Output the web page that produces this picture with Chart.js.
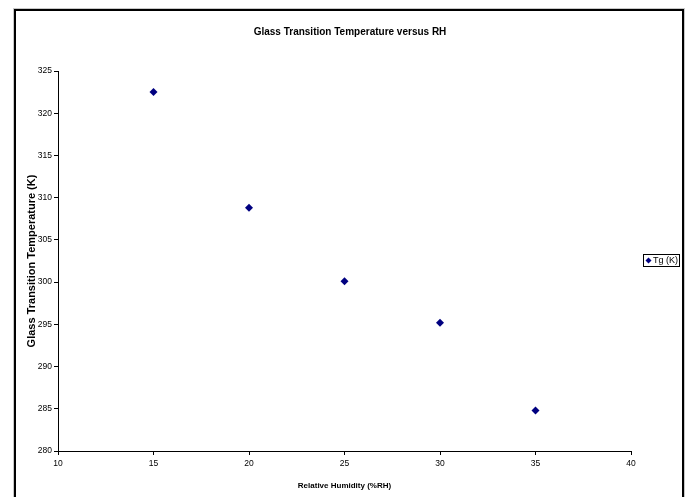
<!DOCTYPE html>
<html>
<head>
<meta charset="utf-8">
<script src="https://cdn.jsdelivr.net/npm/chart.js@4.4.1/dist/chart.umd.min.js"></script>
<style>
  html, body { margin: 0; padding: 0; background: #ffffff; }
  #wrap { position: relative; width: 689px; height: 497px; }
</style>
</head>
<body>
<div id="wrap"><canvas id="c" width="689" height="497"></canvas></div>
<script>
// ---- data ----
const humidity = [15, 20, 25, 30, 35];                 // Relative Humidity (%RH)
const tgValues = [322.5, 308.8, 300.1, 295.2, 284.8];  // Tg (K)
const seriesName = 'Tg (K)';
const chartTitle = 'Glass Transition Temperature versus RH';
const xTitle = 'Relative Humidity (%RH)';
const yTitle = 'Glass Transition Temperature (K)';
const xRange = [10, 40];
const yRange = [280, 325];

const points = humidity.map((h, i) => ({ x: h, y: tgValues[i] }));

const FONT = 'Arial, "Liberation Sans", sans-serif';

const frame = {
  id: 'frame',
  beforeDraw(chart) {
    const ctx = chart.ctx;
    ctx.save();
    ctx.fillStyle = '#ffffff';
    ctx.fillRect(0, 0, chart.width, chart.height);
    ctx.strokeStyle = '#c8c8c8';
    ctx.lineWidth = 1;
    ctx.strokeRect(13.5, 8.5, 671, 492);
    ctx.strokeStyle = '#000000';
    ctx.lineWidth = 2;
    ctx.strokeRect(15, 10, 668, 490);
    ctx.restore();
  }
};

const boxLegend = {
  id: 'boxLegend',
  afterDraw(chart) {
    const ctx = chart.ctx;
    const ds = chart.data.datasets[0];
    const x0 = 643, y0 = 254, w = 36, h = 12;
    ctx.save();
    ctx.fillStyle = '#ffffff';
    ctx.fillRect(x0, y0, w, h);
    ctx.strokeStyle = '#000000';
    ctx.lineWidth = 1;
    ctx.strokeRect(x0 + 0.5, y0 + 0.5, w, h);
    const cx = x0 + 5.5, cy = y0 + h / 2 + 0.5, r = 3;
    ctx.fillStyle = ds.pointBackgroundColor;
    ctx.beginPath();
    ctx.moveTo(cx, cy - r); ctx.lineTo(cx + r, cy); ctx.lineTo(cx, cy + r); ctx.lineTo(cx - r, cy);
    ctx.closePath(); ctx.fill();
    ctx.fillStyle = '#000000';
    ctx.font = '9px ' + FONT;
    ctx.textBaseline = 'middle';
    ctx.textAlign = 'left';
    ctx.fillText(ds.label, x0 + 10, cy);
    ctx.restore();
  }
};

new Chart(document.getElementById('c'), {
  type: 'scatter',
  data: {
    datasets: [{
      label: seriesName,
      data: points,
      pointStyle: 'rectRot',
      pointRadius: 4,
      pointHoverRadius: 4,
      pointBackgroundColor: '#000080',
      pointBorderColor: '#000080',
      pointBorderWidth: 0,
      showLine: false
    }]
  },
  options: {
    responsive: false,
    animation: false,
    devicePixelRatio: 1,
    layout: { padding: { left: 16, right: 5, top: 0, bottom: 0 } },
    plugins: {
      legend: { display: false },
      tooltip: { enabled: false },
      title: {
        display: true,
        text: chartTitle,
        color: '#000000',
        font: { family: FONT, size: 10, weight: 'bold', lineHeight: 1.2 },
        padding: { top: 26, bottom: 33 }
      }
    },
    scales: {
      x: {
        type: 'linear',
        min: xRange[0], max: xRange[1],
        afterFit(scale) { scale.height = 46; },
        ticks: { stepSize: 5, color: '#000000', font: { family: FONT, size: 8.5 }, padding: 4, maxRotation: 0 },
        grid: { drawOnChartArea: false, drawTicks: true, tickLength: 4, color: '#000000' },
        border: { display: true, color: '#000000', width: 1 },
        title: {
          display: true, text: xTitle, color: '#000000',
          font: { family: FONT, size: 8, weight: 'bold' },
          padding: { top: 0, bottom: 6 }
        }
      },
      y: {
        type: 'linear',
        min: yRange[0], max: yRange[1],
        afterFit(scale) { scale.width = 42; },
        ticks: { stepSize: 5, color: '#000000', font: { family: FONT, size: 8.5 }, padding: 2 },
        grid: { drawOnChartArea: false, drawTicks: true, tickLength: 4, color: '#000000' },
        border: { display: true, color: '#000000', width: 1 },
        title: {
          display: true, text: yTitle, color: '#000000',
          font: { family: FONT, size: 11, weight: 'bold' },
          padding: { top: 9, bottom: 0 }
        }
      },
      legendSpace: {
        type: 'linear',
        position: 'right',
        display: true,
        afterFit(scale) { scale.width = 53; },
        ticks: { display: false },
        grid: { display: false, drawTicks: false },
        border: { display: false },
        title: { display: false }
      }
    }
  },
  plugins: [frame, boxLegend]
});
</script>
</body>
</html>
